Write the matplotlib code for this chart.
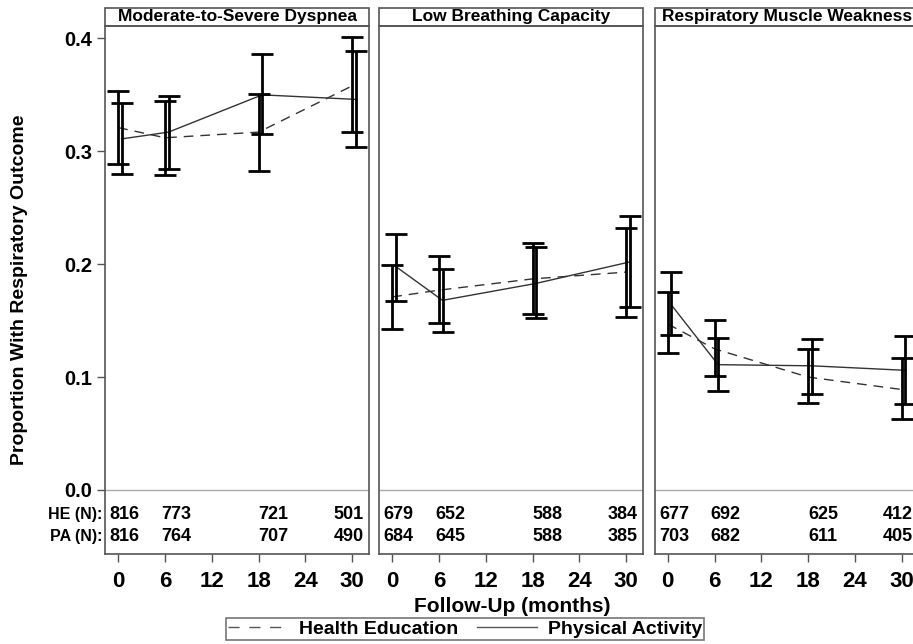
import numpy as np
import matplotlib
matplotlib.use("Agg")
import matplotlib.pyplot as plt
from matplotlib.lines import Line2D
from matplotlib.patches import Rectangle

plt.rcParams['font.family'] = ['Liberation Sans', 'DejaVu Sans']
plt.rcParams['font.weight'] = 'bold'

# data
months = [0, 6, 18, 30]
panels = ["Moderate-to-Severe Dyspnea", "Low Breathing Capacity", "Respiratory Muscle Weakness"]

he_mean = [[0.321, 0.312, 0.317, 0.358], [0.171, 0.177, 0.187, 0.193], [0.147, 0.125, 0.100, 0.089]]
he_lo = [[0.289, 0.279, 0.283, 0.317], [0.143, 0.148, 0.156, 0.153], [0.121, 0.101, 0.077, 0.063]]
he_hi = [[0.353, 0.345, 0.351, 0.401], [0.199, 0.207, 0.219, 0.232], [0.175, 0.151, 0.125, 0.117]]

pa_mean = [[0.311, 0.317, 0.350, 0.346], [0.198, 0.168, 0.183, 0.202], [0.164, 0.111, 0.110, 0.106]]
pa_lo = [[0.280, 0.284, 0.315, 0.304], [0.167, 0.140, 0.152, 0.162], [0.137, 0.088, 0.085, 0.076]]
pa_hi = [[0.343, 0.349, 0.386, 0.389], [0.227, 0.196, 0.215, 0.243], [0.193, 0.135, 0.134, 0.136]]

he_n = [[816, 773, 721, 501], [679, 652, 588, 384], [677, 692, 625, 412]]
pa_n = [[816, 764, 707, 490], [684, 645, 588, 385], [703, 682, 611, 405]]

xticks = [0, 6, 12, 18, 24, 30]
yticks = [0.0, 0.1, 0.2, 0.3, 0.4]

W, H = 913, 644
fig = plt.figure(figsize=(W / 100, H / 100), dpi=100)

frame_col = '#555555'
lefts = [105, 379, 654.6]
pw, top, bot = 264, 26, 554
hdr = 18
n_shift = [-1.1, -0.5, 0.0, -2.4]

x = np.array(months, dtype=float)
for i, title in enumerate(panels):
    ax = fig.add_axes([lefts[i] / W, (H - bot) / H, pw / W, (bot - top) / H])
    ax.set_xlim(-1.69, 32.15)
    ax.set_ylim(-0.0567, 0.411)

    hm, hl, hh = map(np.array, (he_mean[i], he_lo[i], he_hi[i]))
    pm, pl, ph = map(np.array, (pa_mean[i], pa_lo[i], pa_hi[i]))

    ax.axhline(0, color='#aaaaaa', lw=1, zorder=1)
    ax.plot(x, hm, color='#333333', lw=1, ls=(0, (7, 5)), zorder=2)
    ax.plot(x + 0.45, pm, color='#333333', lw=1, ls='-', zorder=2)
    ax.errorbar(x, hm, yerr=[hm - hl, hh - hm], fmt='none', ecolor='black',
                elinewidth=2, capsize=8, capthick=2, zorder=3)
    ax.errorbar(x + 0.45, pm, yerr=[pm - pl, ph - pm], fmt='none', ecolor='black',
                elinewidth=2, capsize=8, capthick=2, zorder=3)

    for j, m in enumerate(months):
        ax.text(m + n_shift[j], -0.022, str(he_n[i][j]), ha='left', va='center', fontsize=13)
        ax.text(m + n_shift[j], -0.0416, str(pa_n[i][j]), ha='left', va='center', fontsize=13)

    for s in ax.spines.values():
        s.set_color(frame_col)
        s.set_linewidth(1.2)

    ax.set_xticks(xticks)
    ax.set_xticklabels([str(t) for t in xticks], fontsize=16)
    ax.tick_params(axis='x', length=6, width=1, color=frame_col, pad=6)
    if i == 0:
        ax.set_yticks(yticks)
        ax.set_yticklabels(['%.1f' % t for t in yticks], fontsize=14.5)
        ax.tick_params(axis='y', length=6, width=1, color=frame_col, pad=3)
        ax.set_ylabel('Proportion With Respiratory Outcome', fontsize=14, fontweight='bold',
                      family=['Liberation Sans Narrow', 'Liberation Sans'], labelpad=26)
        ax.text(-0.01, -0.022, 'HE (N):', transform=ax.get_yaxis_transform(),
                ha='right', va='center', fontsize=11.5)
        ax.text(-0.01, -0.0416, 'PA (N):', transform=ax.get_yaxis_transform(),
                ha='right', va='center', fontsize=11.5)
    else:
        ax.set_yticks([])

    # header strip with the panel title
    hh_ax = hdr / (bot - top)
    ax.add_patch(Rectangle((0, 1), 1, hh_ax, transform=ax.transAxes, facecolor='white',
                           edgecolor=frame_col, lw=1.2, clip_on=False))
    ax.text(0.5, 1 + hh_ax / 2, title, transform=ax.transAxes, ha='center', va='center',
            fontsize=12.5)

fig.text(512 / W, 1 - 607 / H, 'Follow-Up (months)', ha='center', va='center', fontsize=15)

handles = [Line2D([], [], color='#555555', lw=1, ls=(0, (8, 7))),
           Line2D([], [], color='#555555', lw=1, ls='-')]
leg = fig.legend(handles, ['Health Education', 'Physical Activity'], loc='center',
                 bbox_to_anchor=(465 / W, 1 - 629 / H), ncol=2, fontsize=14,
                 frameon=True, fancybox=False, edgecolor=frame_col, handlelength=3.1,
                 borderpad=0.1, columnspacing=0.95, handletextpad=0.55, borderaxespad=0)
leg.get_frame().set_linewidth(1.2)

fig.savefig('out.png', dpi=100)
